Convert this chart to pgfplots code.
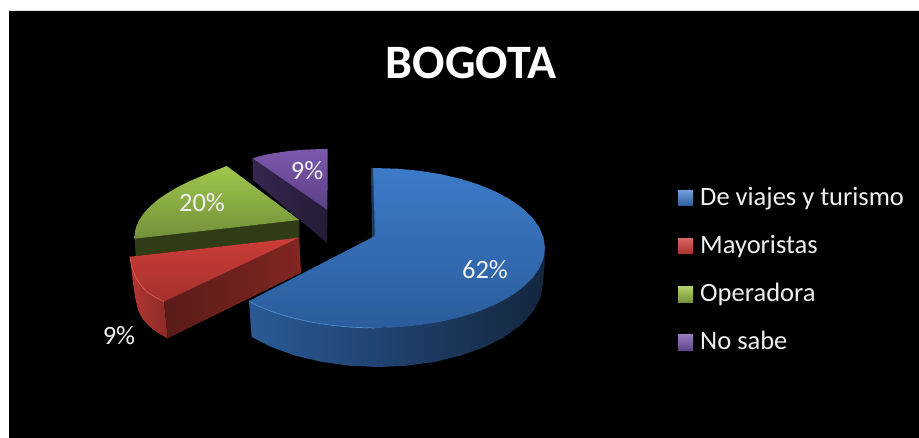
\documentclass[border=0pt]{standalone}
\usepackage{pgfplots}
\pgfplotsset{compat=1.18}
\usepackage{fontspec}
\setmainfont{Carlito}
% Segment colours: top faces and side walls
\definecolor{bluetopa}{HTML}{3C7BC8}
\definecolor{bluetopb}{HTML}{2B5C9C}
\definecolor{bluesidea}{HTML}{2A5A96}
\definecolor{bluesideb}{HTML}{1C3B63}
\definecolor{bluesidec}{HTML}{14263F}
\definecolor{bluerim}{HTML}{4F8AD0}
\definecolor{redtopa}{HTML}{CC3D38}
\definecolor{redtopb}{HTML}{A5302C}
\definecolor{redwalla}{HTML}{591C19}
\definecolor{redwallb}{HTML}{822622}
\definecolor{redoutera}{HTML}{B23733}
\definecolor{redouterb}{HTML}{8C2A27}
\definecolor{greentopa}{HTML}{9FC64C}
\definecolor{greentopb}{HTML}{73903A}
\definecolor{greenwall}{HTML}{303C15}
\definecolor{purpletopa}{HTML}{7C58AC}
\definecolor{purpletopb}{HTML}{5C4086}
\definecolor{purplewalla}{HTML}{35264F}
\definecolor{purplewallb}{HTML}{251B36}
\definecolor{labeltext}{HTML}{F0F0F0}
\pgfplotsset{facet/.style={no markers, draw=none}}
\newcommand{\chartlabel}[1]{\fontsize{26.5}{30}\selectfont\textcolor{labeltext}{#1}}
\begin{document}
\begin{tikzpicture}
\begin{axis}[
  width=919pt, height=438pt, scale only axis,
  xmin=0, xmax=919, ymin=0, ymax=438, y dir=reverse,
  hide axis, clip=false,
]
% page and chart area
\addplot[facet, fill=white] coordinates {(0,0) (919,0) (919,438) (0,438) (0,0)};
\addplot[facet, fill=black] coordinates {(9,11) (919,11) (919,438) (9,438) (9,11)};

% No sabe
\addplot[facet, left color=purplewalla, right color=purplewallb] coordinates {
  (252.7,158.3) (327.5,210) (327,243) (253,180) (252.7,158.3)};
\addplot[facet, top color=purpletopa, bottom color=purpletopb] coordinates {
  (252.7,158.3) (262,155.6) (273,153.3) (286,151.4) (300,150) (314,149.3) (327.7,149)
  (327.4,210) (252.7,158.3)};

% Operadora
\addplot[facet, fill=greenwall] coordinates {
  (134.7,238) (299.3,220) (299.3,238) (135.7,256) (134.7,238)};
\addplot[facet, top color=greentopa, bottom color=greentopb] coordinates {
  (134.7,238.7) (134.8,232) (136.5,226) (139.5,219.5) (144,213) (150,206.5) (158,199.5)
  (167,193.5) (177,187.5) (190,181) (206.7,174) (226.7,166)
  (299.3,220) (134.7,238.7)};

% Mayoristas
\addplot[facet, left color=redoutera, right color=redouterb] coordinates {
  (130.7,256.7) (131.5,270) (133,283) (135,297) (138,310) (143,319.5) (150,327) (158,333)
  (167.7,338.3) (164,301.7) (146,291) (135,276) (130.7,256.7)};
\addplot[facet, left color=redwalla, right color=redwallb] coordinates {
  (164,301.7) (299.3,237.7) (301,272.7) (167.7,338.3) (164,301.7)};
\addplot[facet, top color=redtopa, bottom color=redtopb] coordinates {
  (130,256.7) (299.3,237.7) (164,301.7) (154,296.5) (146,291) (140,284) (135,276) (131.5,266)
  (130,256.7)};
\addplot[no markers, draw=redtopa!85!white, line width=0.8pt] coordinates {
  (130,256.7) (131.5,266) (135,276) (140,284) (146,291) (154,296.5) (164,301.7)};

% De viajes y turismo
\addplot[facet, left color=bluesidea, middle color=bluesideb, right color=bluesidec] coordinates {
  (249,301) (254.8,304.6) (271.5,311.5) (290,317.3) (331,325.3) (375,328) (419,325.3)
  (460,317.3) (495.2,304.6) (522.2,288) (539.2,268.7) (545,248)
  (544.5,265) (543,283) (540.5,297.6) (533,311.7) (520.9,325) (504.4,337) (484,347.3)
  (460.5,355.7) (434.4,361.9) (406.7,365.7) (378,367) (349.3,365.7) (321.6,361.9)
  (295.5,355.7) (272,347.3) (251.6,337) (249,301)};
\addplot[facet, fill=bluesideb] coordinates {
  (371,168) (374,168) (376,236) (372,239) (371,168)};
\addplot[facet, top color=bluetopa, bottom color=bluetopb] coordinates {
  (373,168) (397.2,168.7) (419,170.7) (440.1,174.1) (460,178.7) (478.5,184.5) (495.2,191.4)
  (509.9,199.3) (522.2,208) (532.1,217.4) (539.2,227.3) (543.5,237.6) (545,248) (543.5,258.4)
  (539.2,268.7) (532.1,278.6) (522.2,288) (509.9,296.7) (495.2,304.6) (478.5,311.5)
  (460,317.3) (440.1,321.9) (419,325.3) (397.2,327.3) (375,328) (352.8,327.3) (331,325.3)
  (309.9,321.9) (290,317.3) (271.5,311.5) (254.8,304.6) (249,301) (375,236) (373,168)};
\addplot[no markers, draw=bluerim, line width=0.7pt] coordinates {
  (249,301) (254.8,304.6) (271.5,311.5) (290,317.3) (309.9,321.9) (331,325.3) (352.8,327.3) (375,328)};

% legend keys
\addplot[facet, top color=bluetopa!75!white, bottom color=bluetopb] coordinates {(678,191) (693,191) (693,206) (678,206) (678,191)};
\addplot[facet, top color=redtopa!80!white, bottom color=redtopb] coordinates {(678,239) (693,239) (693,254) (678,254) (678,239)};
\addplot[facet, top color=greentopa!85!white, bottom color=greentopb] coordinates {(678,287) (693,287) (693,303) (678,303) (678,287)};
\addplot[facet, top color=purpletopa!80!white, bottom color=purpletopb] coordinates {(678,335) (693,335) (693,351) (678,351) (678,335)};

% title, value labels and legend text
\node[text=white, inner sep=0pt] at (axis cs:471,63) {\fontsize{48}{52}\selectfont\bfseries BOGOTA};
\node[inner sep=0pt] at (axis cs:485,270) {\chartlabel{62\%}};
\node[inner sep=0pt] at (axis cs:202,203) {\chartlabel{20\%}};
\node[inner sep=0pt] at (axis cs:307,171) {\chartlabel{9\%}};
\node[inner sep=0pt] at (axis cs:119,336) {\chartlabel{9\%}};
\node[anchor=base west, inner sep=0pt] at (axis cs:700,206) {\chartlabel{De viajes y turismo}};
\node[anchor=base west, inner sep=0pt] at (axis cs:700,254) {\chartlabel{Mayoristas}};
\node[anchor=base west, inner sep=0pt] at (axis cs:700,302) {\chartlabel{Operadora}};
\node[anchor=base west, inner sep=0pt] at (axis cs:700,350) {\chartlabel{No sabe}};
\end{axis}
\end{tikzpicture}
\end{document}
